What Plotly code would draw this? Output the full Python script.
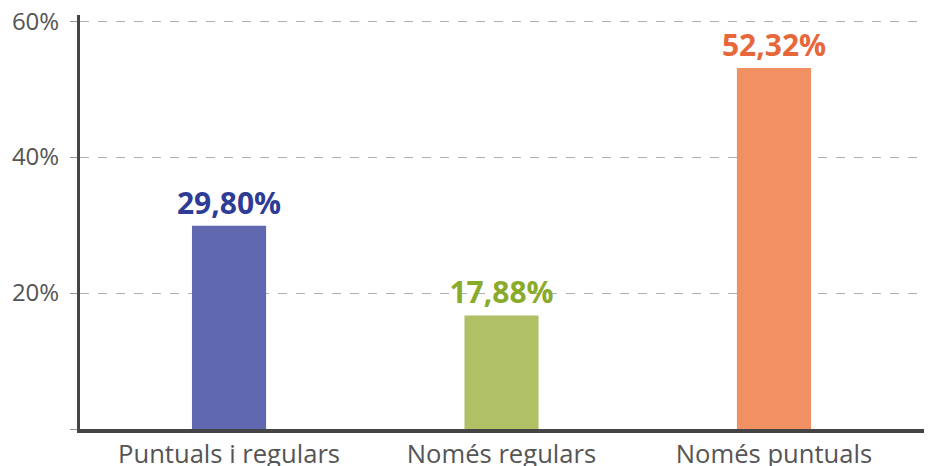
import plotly.graph_objects as go

categories = ["Puntuals i regulars", "Només regulars", "Només puntuals"]
# bar heights as drawn in the picture, and the value labels printed above them
bar_heights = [29.9, 16.7, 53.1]
value_labels = ["29,80%", "17,88%", "52,32%"]
bar_colors = ["#6068b0", "#afc065", "#f09063"]
label_colors = ["#2e3c96", "#8aab2a", "#e8673a"]
tick_vals = [0, 20, 40, 60]
tick_text = ["", "20%", "40%", "60%"]

fig = go.Figure(go.Bar(
    x=categories, y=bar_heights, width=0.272,
    marker=dict(color=bar_colors, line=dict(width=0)),
    text=value_labels, textposition="outside", cliponaxis=False,
    constraintext="none",
    textfont=dict(family="Open Sans", size=30, color=label_colors, weight="bold"),
    hoverinfo="skip",
))

# page body has an 8px default margin, so figure is sized/margined to compensate
fig.update_layout(
    width=924, height=458,
    margin=dict(l=72, r=0, t=7, b=37),
    paper_bgcolor="white", plot_bgcolor="white",
    showlegend=False,
    font=dict(family="Open Sans", color="#555555"),
)
fig.update_xaxes(
    type="category", range=[-0.547, 2.58],
    showline=True, linecolor="#444444", linewidth=4,
    showgrid=False, ticks="", tickfont=dict(size=25.6, color="#555555"),
    ticklabelstandoff=-1, ticklabeloverflow="allow",
    automargin=False, fixedrange=True,
)
fig.update_yaxes(
    range=[0, 60.9], tickvals=tick_vals, ticktext=tick_text,
    showline=True, linecolor="#444444", linewidth=3,
    showgrid=True, gridcolor="#b0b0b0", gridwidth=1, griddash="dash",
    ticks="outside", ticklen=7, tickcolor="#999999", tickwidth=1,
    tickfont=dict(size=24, color="#555555"), ticklabelstandoff=6,
    ticklabeloverflow="allow",
    zeroline=False, automargin=False, fixedrange=True,
)

fig.write_html("out.html")
